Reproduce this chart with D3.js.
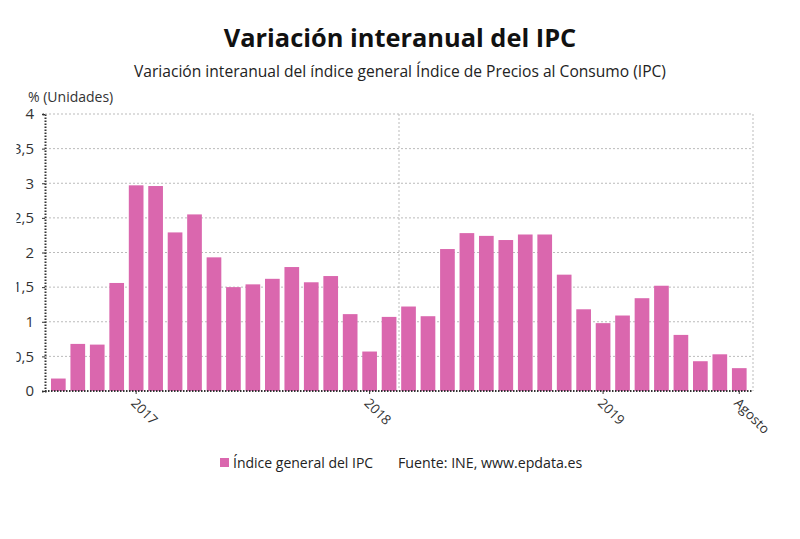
<!DOCTYPE html>
<html><head><meta charset="utf-8">
<script src="https://cdn.jsdelivr.net/npm/d3@7"></script>
<style>
html,body{margin:0;padding:0;background:#fff;}
svg{display:block;font-family:"Open Sans",sans-serif;}
</style></head>
<body>
<svg id="c" width="800" height="539"></svg>
<script>
const months = ["2016-09","2016-10","2016-11","2016-12","2017-01","2017-02","2017-03","2017-04","2017-05","2017-06","2017-07","2017-08","2017-09","2017-10","2017-11","2017-12","2018-01","2018-02","2018-03","2018-04","2018-05","2018-06","2018-07","2018-08","2018-09","2018-10","2018-11","2018-12","2019-01","2019-02","2019-03","2019-04","2019-05","2019-06","2019-07","2019-08"];
const values = [0.18,0.68,0.67,1.56,2.97,2.96,2.29,2.55,1.93,1.5,1.54,1.62,1.79,1.57,1.66,1.11,0.57,1.07,1.22,1.08,2.05,2.28,2.24,2.18,2.26,2.26,1.68,1.18,0.98,1.09,1.34,1.52,0.81,0.43,0.53,0.33];
const xTickMonths = ["2017-01","2018-01","2019-01","2019-08"];
const xTickLabels = ["2017","2018","2019","Agosto"];
const yTicks = [0,0.5,1,1.5,2,2.5,3,3.5,4];

const svg = d3.select("#c");
const color = "#da67ae";
const pLeft = 45, pRight = 753, pTop = 114, pBottom = 391;

const x = d3.scaleBand().domain(months).range([48.6, 749]).paddingInner(0.245).paddingOuter(0.1225);
const y = d3.scaleLinear().domain([0,4]).range([pBottom, pTop]);

svg.append("defs").append("clipPath").attr("id","yclip")
  .append("rect").attr("x",16.5).attr("y",0).attr("width",800).attr("height",539);

svg.append("text").attr("x",400).attr("y",47).attr("text-anchor","middle")
  .attr("font-size",25.4).attr("font-weight",700).attr("fill","#111").text("Variación interanual del IPC");
svg.append("text").attr("x",400).attr("y",77).attr("text-anchor","middle")
  .attr("font-size",15.6).attr("fill","#222").text("Variación interanual del índice general Índice de Precios al Consumo (IPC)");
svg.append("text").attr("x",28).attr("y",102).attr("font-size",14).attr("fill","#333").text("% (Unidades)");

// gridlines
svg.append("g").selectAll("line").data(yTicks.filter(d=>d>0)).join("line")
  .attr("x1",pLeft).attr("x2",pRight).attr("y1",d=>y(d)).attr("y2",d=>y(d))
  .attr("stroke","#bbb").attr("stroke-width",1).attr("stroke-dasharray","2,2");
svg.append("g").selectAll("line").data([(pLeft+pRight)/2, pRight]).join("line")
  .attr("x1",d=>d).attr("x2",d=>d).attr("y1",pTop).attr("y2",pBottom)
  .attr("stroke","#bbb").attr("stroke-width",1).attr("stroke-dasharray","2,2");

// bars
svg.append("g").selectAll("rect").data(months).join("rect")
  .attr("x",d=>x(d)).attr("width",x.bandwidth())
  .attr("y",(d,i)=>y(values[i])).attr("height",(d,i)=>y(0)-y(values[i]))
  .attr("fill",color);

// y axis (clipped at the left edge like the reference)
const yAxis = d3.axisLeft(y).tickValues(yTicks).tickSize(3).tickPadding(8)
  .tickFormat(d=>String(d).replace(".",","));
const gyWrap = svg.append("g").attr("clip-path","url(#yclip)");
const gy = gyWrap.append("g").attr("transform",`translate(${pLeft},0)`).call(yAxis);
gy.select(".domain").attr("stroke","#333").attr("stroke-width",2).attr("stroke-dasharray","1.5,1.5");
gy.selectAll(".tick line").attr("stroke","#333");
gy.selectAll("text").attr("font-size",15).attr("fill","#333").attr("font-family","Open Sans");

// x axis
const xAxis = d3.axisBottom(x).tickValues(xTickMonths).tickSize(3).tickFormat(d=>xTickLabels[xTickMonths.indexOf(d)]);
const gx = svg.append("g").attr("transform",`translate(0,${pBottom})`).call(xAxis);
gx.select(".domain").attr("d",`M${pLeft},0H${pRight}`).attr("stroke","#333").attr("stroke-width",2).attr("stroke-dasharray","1.5,1.5");
gx.selectAll(".tick line").attr("stroke","#333");
gx.selectAll("text").attr("font-size",13.5).attr("fill","#333").attr("font-family","Open Sans")
  .attr("text-anchor","start").attr("dy",null).attr("y",0)
  .attr("transform","translate(-6,13) rotate(45)");

// legend
svg.append("rect").attr("x",220).attr("y",458).attr("width",9).attr("height",9).attr("fill",color);
svg.append("text").attr("x",233).attr("y",468).attr("font-size",14).attr("fill","#222").text("Índice general del IPC");
svg.append("text").attr("x",398).attr("y",468).attr("font-size",14.2).attr("fill","#222").text("Fuente: INE, www.epdata.es");
</script>
</body></html>
